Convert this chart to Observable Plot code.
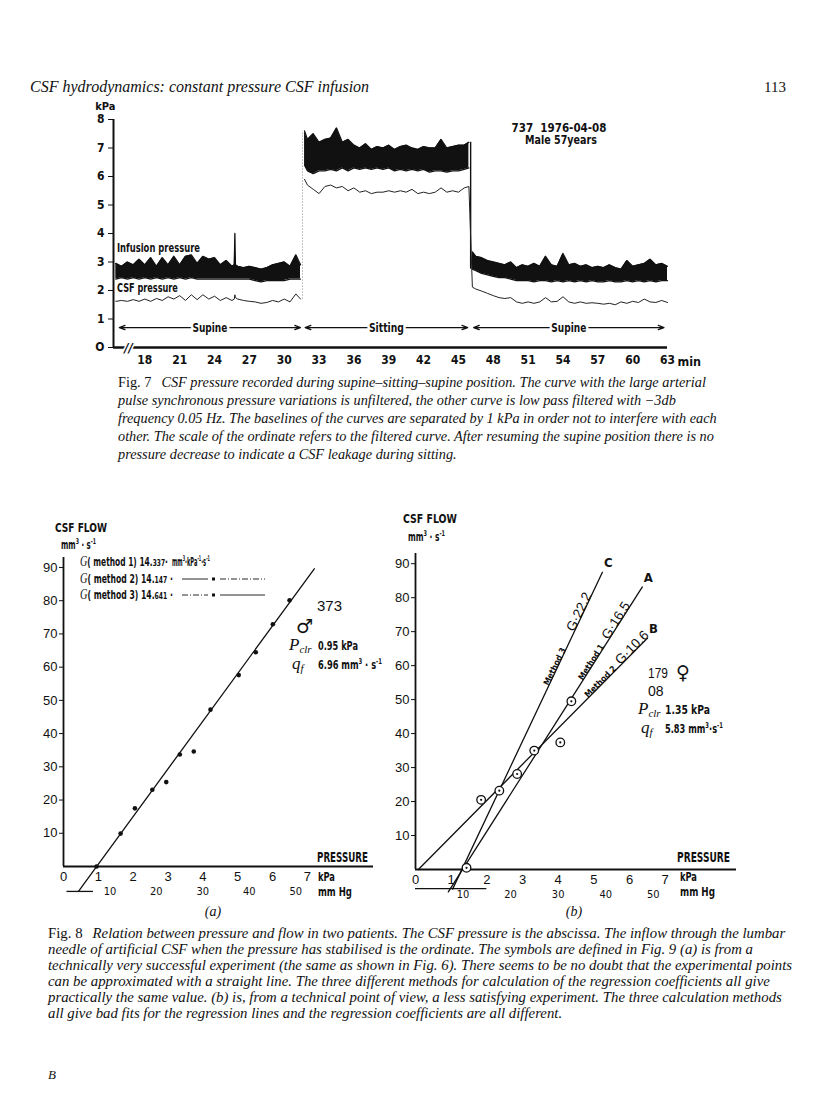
<!DOCTYPE html>
<html><head><meta charset="utf-8">
<script src="https://cdn.jsdelivr.net/npm/d3@7"></script>
<script src="https://cdn.jsdelivr.net/npm/@observablehq/plot@0.6"></script>
<style>
body{margin:0;background:#fff;}
#page{position:relative;width:816px;height:1118px;overflow:hidden;background:#fff;}
#page > svg{position:absolute;}
.ov text{fill:#111;}
.ser{font-family:"Liberation Serif","Times New Roman",serif;}
.it{font-family:"Liberation Serif","Times New Roman",serif;font-style:italic;}
.nar{font-family:"DejaVu Sans Condensed","Liberation Sans Narrow",sans-serif;font-weight:bold;}
.sans{font-family:"Liberation Sans","DejaVu Sans",sans-serif;}
</style></head><body><div id="page"></div>
<script>
// ---------------- Fig. 7 data (time in min, pressure in kPa) ----------------
const fig7XTicks = [18,21,24,27,30,33,36,39,42,45,48,51,54,57,60,63];
const fig7YTicks = [0,1,2,3,4,5,6,7,8];
const fig7Domain = [15.3, 63];

const supine1Time = [15.5,16,16.5,17,17.5,18,18.5,19,19.5,20,20.5,21,21.5,22,22.5,23,23.5,24,24.5,25,25.5,25.7,25.75,25.8,26,26.5,27,27.5,28,28.5,29,29.5,30,30.5,31,31.4];
const supine1InfHi = [2.95,2.85,3.0,2.9,3.1,2.9,3.15,2.85,3.15,2.9,3.2,2.9,3.2,3.25,2.95,3.2,3.1,3.15,2.9,3.05,2.85,2.9,4.0,2.9,2.85,2.8,2.85,2.8,2.75,2.8,2.9,2.95,3.0,2.85,3.25,2.9];
const supine1InfLo = [2.4,2.45,2.4,2.45,2.4,2.45,2.4,2.45,2.4,2.45,2.4,2.45,2.4,2.45,2.4,2.4,2.4,2.4,2.4,2.4,2.4,2.4,2.4,2.4,2.4,2.4,2.4,2.35,2.3,2.35,2.35,2.35,2.35,2.4,2.4,2.4];
const supine1Csf = [1.62,1.65,1.62,1.68,1.62,1.7,1.62,1.72,1.65,1.78,1.7,1.82,1.65,1.85,1.68,1.85,1.7,1.8,1.65,1.75,1.65,1.7,1.85,1.75,1.7,1.65,1.62,1.6,1.55,1.58,1.65,1.6,1.7,1.6,1.88,1.7];

const sittingTime = [31.75,32,32.5,33,33.5,34,34.5,35,35.5,36,36.5,37,37.5,38,38.5,39,39.5,40,40.5,41,41.5,42,42.5,43,43.5,44,44.5,45,45.5,45.9];
const sittingInfHi = [7.6,7.3,7.5,7.2,7.3,7.35,7.7,7.2,7.3,7.1,7.0,7.15,6.95,7.05,7.0,7.1,6.95,7.05,7.1,7.0,6.95,7.05,7.0,7.0,7.3,7.0,7.05,7.1,7.1,7.2];
const sittingInfLo = [6.4,6.2,6.1,6.2,6.2,6.25,6.2,6.3,6.2,6.3,6.25,6.3,6.25,6.3,6.25,6.3,6.2,6.25,6.2,6.25,6.2,6.25,6.15,6.2,6.2,6.15,6.2,6.2,6.25,6.3];
const sittingCsf = [5.9,5.7,5.55,5.4,5.65,5.7,5.6,5.65,5.5,5.6,5.45,5.5,5.4,5.45,5.45,5.5,5.45,5.5,5.45,5.55,5.4,5.45,5.4,5.45,5.6,5.45,5.5,5.45,5.6,5.65];

const supine2Time = [46.2,46.5,47,47.5,48,48.5,49,49.5,50,50.5,51,51.5,52,52.5,53,53.5,54,54.5,55,55.5,56,56.5,57,57.5,58,58.5,59,59.5,60,60.5,61,61.5,62,62.5,63];
const supine2InfHi = [3.35,3.2,3.15,3.05,3.0,2.95,2.9,3.0,2.8,2.9,2.85,2.95,2.85,3.2,2.9,2.85,3.3,2.9,2.95,2.85,2.9,2.8,2.85,2.8,2.9,2.8,2.75,3.05,2.85,2.9,2.95,3.1,2.9,2.95,2.85];
const supine2InfLo = [2.75,2.7,2.6,2.55,2.5,2.45,2.45,2.4,2.35,2.35,2.35,2.3,2.35,2.35,2.3,2.35,2.3,2.35,2.3,2.35,2.3,2.35,2.3,2.3,2.35,2.3,2.3,2.35,2.3,2.35,2.3,2.35,2.3,2.35,2.35];
const supine2Csf = [2.12,2.05,1.98,1.9,1.82,1.75,1.72,1.75,1.6,1.55,1.6,1.55,1.6,1.75,1.6,1.62,1.78,1.6,1.55,1.6,1.55,1.57,1.55,1.52,1.55,1.5,1.6,1.55,1.62,1.58,1.7,1.6,1.58,1.65,1.58];

const positionNames = ["Supine","Sitting","Supine"];
const positionStart = [15.8,31.8,46.3];
const positionEnd = [31.4,45.8,62.7];

// ---------------- Fig. 8 (a) data ----------------
const a_pressure = [0.95,1.64,2.05,2.55,2.95,3.34,3.74,4.22,5.03,5.52,6.01,6.49];
const a_flow     = [0,9.9,17.5,23.1,25.4,33.7,34.6,47.2,57.6,64.5,72.9,80.1];
const a_G = 14.337, a_Pclr = 0.95, a_lineRange = [0.43, 7.2];

// ---------------- Fig. 8 (b) data ----------------
const b_pressure = [1.43,1.84,2.35,2.85,3.33,4.06,4.37];
const b_flow     = [0.5,20.5,23.2,28.1,35,37.4,49.5];
const b_lineNames  = ["A","B","C"];
const b_methods    = ["Method 1","Method 2","Method 3"];
const b_G          = [16.5,10.6,22.2];
const b_intercept  = [1.32,0.08,1.30];
const b_lineStart  = [0.92,0.08,1.04];
const b_lineEnd    = [6.36,6.5,5.24];
const b_methodAtFlow = [60.6,54.7,59.4];
const b_gAtFlow      = [72.6,64.4,75.3];

const flowTicks = [10,20,30,40,50,60,70,80,90];
const kPaTicks = [0,1,2,3,4,5,6,7];
const mmHgTicks = [10,20,30,40,50];
const kPaPerMmHg = 0.133322;

// ---------------- build ----------------
const page = document.getElementById("page");
const NAR = '"DejaVu Sans Condensed","Liberation Sans Narrow",sans-serif';
const SANS = '"Liberation Sans","DejaVu Sans",sans-serif';

// horizontally condense a text element to a target width (keeps its anchor point)
function condense(el, len){
  const w = el.getComputedTextLength();
  if (!(w > 0)) return;
  const s = Math.min(1, len / w);
  const x = +(el.getAttribute("x") || 0);
  const prev = el.getAttribute("transform") || "";
  el.setAttribute("transform", `${prev} translate(${x*(1-s)},0) scale(${s},1)`.trim());
}

function rows(phase, t, hi, lo, csf){ return t.map((d,i)=>({phase, t:d, hi:hi[i], lo:lo[i], csf:csf[i], csfGroup: phase==="s1"?"a":"b"})); }
const fig7 = [...rows("s1",supine1Time,supine1InfHi,supine1InfLo,supine1Csf),
              ...rows("sit",sittingTime,sittingInfHi,sittingInfLo,sittingCsf),
              ...rows("s2",supine2Time,supine2InfHi,supine2InfLo,supine2Csf)];
const trans1 = {x:(supine1Time.at(-1)+sittingTime[0])/2, y1:supine1Csf.at(-1), y2:sittingInfHi[0]};
const trans2 = {x:(sittingTime.at(-1)+supine2Time[0])/2, y1:supine2InfLo[0], y2:sittingInfHi.at(-1)};
const posRows = positionNames.map((p,i)=>({p, a:positionStart[i], b:positionEnd[i], m:(positionStart[i]+positionEnd[i])/2}));

const p7 = Plot.plot({
  width:720, height:280, marginLeft:113, marginRight:53, marginTop:19, marginBottom:33,
  style:{background:"transparent", fontFamily:NAR, fontSize:"12px", fontWeight:"bold", color:"#111"},
  x:{domain:fig7Domain, ticks:fig7XTicks, tickSize:0, tickPadding:8, label:null},
  y:{domain:[0,8], ticks:fig7YTicks, tickSize:5, tickPadding:4, label:null, tickFormat:d=>d===0?"O":String(d)},
  marks:[
    Plot.ruleX([fig7Domain[0]], {y1:0, y2:8, strokeWidth:2, stroke:"#111"}),
    Plot.ruleY([0], {x1:fig7Domain[0], x2:fig7Domain[1], strokeWidth:2.4, stroke:"#111"}),
    Plot.ruleX([trans1], {x:"x", y1:"y1", y2:"y2", stroke:"#888", strokeDasharray:"1,2"}),
    Plot.ruleX([trans2], {x:"x", y1:"y1", y2:"y2", stroke:"#111", strokeWidth:1.4}),
    Plot.areaY(fig7, {x:"t", y1:"lo", y2:"hi", z:"phase", fill:"#111"}),
    Plot.line(fig7, {x:"t", y:"hi", z:"phase", stroke:"#111", strokeWidth:1.3}),
    Plot.line(fig7, {x:"t", y:"lo", z:"phase", stroke:"#111", strokeWidth:1.3}),
    Plot.line(fig7, {x:"t", y:"csf", z:"csfGroup", stroke:"#222", strokeWidth:1}),
    Plot.arrow(posRows, {x1:"m", x2:"a", y1:0.7, y2:0.7, headLength:7, headAngle:40, strokeWidth:1.3, stroke:"#111"}),
    Plot.arrow(posRows, {x1:"m", x2:"b", y1:0.7, y2:0.7, headLength:7, headAngle:40, strokeWidth:1.3, stroke:"#111"}),
    Plot.text(posRows, {x:"m", y:0.7, text:"p", fontSize:12.5, fill:"#111", stroke:"white", strokeWidth:6}),
    Plot.text(["min"], {x:fig7Domain[1], y:0, dx:10, dy:14, textAnchor:"start", fontSize:12.5}),
    Plot.text(["kPa"], {x:fig7Domain[0], y:8, dx:2, dy:-13, textAnchor:"end", fontSize:11}),
    Plot.text(["//"], {x:16.6, y:0, fontSize:13, fontStyle:"italic", stroke:"white", strokeWidth:3, fill:"#111"})
  ]
});
p7.style.left = "0px"; p7.style.top = "100px";
page.appendChild(p7);
d3.select(p7).selectAll("text").filter(function(){ return positionNames.includes(this.textContent); })
  .each(function(){ condense(this, 35); });

// Fig 8 (a)
const aPts = a_pressure.map((x,i)=>({x, y:a_flow[i]}));
const aLine = a_lineRange.map(x=>({x, y:a_G*(x-a_Pclr)}));
const pa = Plot.plot({
  width:400, height:410, marginLeft:63, marginRight:27, marginTop:57, marginBottom:44,
  style:{background:"transparent", fontFamily:SANS, fontSize:"13px", color:"#111"},
  x:{domain:[0,8.9], ticks:kPaTicks, tickSize:0, tickPadding:5, label:null},
  y:{domain:[0,93], ticks:flowTicks, tickSize:4, tickPadding:2, label:null},
  marks:[
    Plot.ruleX([0], {y1:0, y2:93, strokeWidth:1.8, stroke:"#111"}),
    Plot.ruleY([0], {x1:0, x2:8.9, strokeWidth:1.8, stroke:"#111"}),
    Plot.ruleY([-7.5], {x1:0.1, x2:0.86, strokeWidth:1.3, stroke:"#111"}),
    Plot.line(aLine, {x:"x", y:"y", strokeWidth:1.3, stroke:"#111"}),
    Plot.dot(aPts, {x:"x", y:"y", r:2.3, fill:"#111"}),
    Plot.text(mmHgTicks, {x:d=>d*kPaPerMmHg, y:0, dy:25, text:d=>String(d), fontSize:11, fontFamily:NAR})
  ]
});
pa.style.left = "0px"; pa.style.top = "500px";
page.appendChild(pa);

// Fig 8 (b)
const kx = (736-415)/9, ky = 316/93; // px per unit, used only for the label angle
const bPts = b_pressure.map((x,i)=>({x, y:b_flow[i]}));
const bLines = b_lineNames.flatMap((n,i)=>[b_lineStart[i], b_lineEnd[i]].map(x=>({n, x, y:b_G[i]*(x-b_intercept[i])})));
const bEnds = b_lineNames.map((n,i)=>({n, x:b_lineEnd[i], y:b_G[i]*(b_lineEnd[i]-b_intercept[i])}));
const bLabels = b_lineNames.map((n,i)=>({
  method:b_methods[i], g:"G·"+b_G[i],
  mx:b_intercept[i]+b_methodAtFlow[i]/b_G[i], my:b_methodAtFlow[i],
  gx:b_intercept[i]+b_gAtFlow[i]/b_G[i], gy:b_gAtFlow[i],
  rot:-Math.atan(b_G[i]*ky/kx)*180/Math.PI}));
const pb = Plot.plot({
  width:420, height:410, marginLeft:65, marginRight:34, marginTop:53, marginBottom:41,
  style:{background:"transparent", fontFamily:SANS, fontSize:"13px", color:"#111"},
  x:{domain:[0,9], ticks:kPaTicks, tickSize:0, tickPadding:5, label:null},
  y:{domain:[0,93], ticks:flowTicks, tickSize:4, tickPadding:2, label:null},
  marks:[
    Plot.ruleX([0], {y1:0, y2:93, strokeWidth:1.8, stroke:"#111"}),
    Plot.ruleY([0], {x1:0, x2:9, strokeWidth:1.8, stroke:"#111"}),
    Plot.ruleY([-5.6], {x1:0, x2:2.0, strokeWidth:1.2, stroke:"#111"}),
    Plot.line(bLines, {x:"x", y:"y", z:"n", strokeWidth:1.3, stroke:"#111"}),
    Plot.dot(bPts, {x:"x", y:"y", r:4.3, fill:"white", stroke:"#111", strokeWidth:1.3}),
    Plot.dot(bPts, {x:"x", y:"y", r:1.1, fill:"#111"}),
    Plot.text(bEnds, {x:"x", y:"y", text:"n", dx:6, dy:-9, fontFamily:NAR, fontWeight:"bold", fontSize:13}),
    Plot.text(bLabels, {x:"mx", y:"my", text:"method", rotate:"rot", lineAnchor:"bottom", fontFamily:NAR, fontWeight:"bold", fontSize:8.5}),
    Plot.text(bLabels, {x:"gx", y:"gy", text:"g", rotate:"rot", lineAnchor:"bottom", fontFamily:SANS, fontSize:13.5}),
    Plot.text(mmHgTicks, {x:d=>d*kPaPerMmHg, y:0, dy:25, text:d=>String(d), fontSize:11, fontFamily:NAR})
  ]
});
pb.style.left = "350px"; pb.style.top = "500px";
page.appendChild(pb);

// ---------------- page texts (overlay) ----------------
function T(x, y, cls, size, content, len, anchor){
  return `<text class="${cls}" x="${x}" y="${y}" font-size="${size}"${anchor?` text-anchor="${anchor}"`:""}${len?` data-len="${len}"`:""} xml:space="preserve">${content}</text>`;
}
const unitFlow = `mm<tspan font-size="8" dy="-5">3</tspan><tspan dy="5">·s</tspan><tspan font-size="8" dy="-5">-1</tspan>`;
const unitFlowSp = `mm<tspan font-size="8" dy="-5">3</tspan><tspan dy="5"> · s</tspan><tspan font-size="8" dy="-5">-1</tspan>`;
const cap7 = [
 `<tspan class="ser" font-style="normal">Fig. 7</tspan><tspan dx="10">CSF pressure recorded during supine–sitting–supine position. The curve with the large arterial</tspan>`,
 `pulse synchronous pressure variations is unfiltered, the other curve is low pass filtered with −3db`,
 `frequency 0.05 Hz. The baselines of the curves are separated by 1 kPa in order not to interfere with each`,
 `other. The scale of the ordinate refers to the filtered curve. After resuming the supine position there is no`,
 `pressure decrease to indicate a CSF leakage during sitting.`];
const cap8 = [
 `<tspan class="ser" font-style="normal">Fig. 8</tspan><tspan dx="10">Relation between pressure and flow in two patients. The CSF pressure is the abscissa. The inflow through the lumbar</tspan>`,
 `needle of artificial CSF when the pressure has stabilised is the ordinate. The symbols are defined in Fig. 9 (a) is from a`,
 `technically very successful experiment (the same as shown in Fig. 6). There seems to be no doubt that the experimental points`,
 `can be approximated with a straight line. The three different methods for calculation of the regression coefficients all give`,
 `practically the same value. (b) is, from a technical point of view, a less satisfying experiment. The three calculation methods`,
 `all give bad fits for the regression lines and the regression coefficients are all different.`];

let ov = `<svg class="ov" width="816" height="1118" style="left:0;top:0" xmlns="http://www.w3.org/2000/svg">`;
ov += T(30, 92, "it", 16, "CSF hydrodynamics: constant pressure CSF infusion");
ov += T(786, 92, "ser", 15, "113", 0, "end");
// fig 7 annotations
ov += T(559, 132, "nar", 11.5, "737  1976-04-08", 97, "middle");
ov += T(561, 144, "nar", 11.5, "Male 57years", 72, "middle");
ov += T(117, 252, "nar", 12, "Infusion pressure", 83);
ov += T(117, 292, "nar", 12, "CSF pressure", 61);
cap7.forEach((l,i)=>{ ov += `<text class="it" x="118" y="${387+i*18}" font-size="14.3">${l}</text>`; });
// fig 8a
ov += T(55, 532, "nar", 13, "CSF FLOW", 52);
ov += T(61, 549, "nar", 12, unitFlowSp, 35);
const legY = [566,583,599], legVal = ["14.337","14.147","14.641"];
legY.forEach((y,i)=>{
  ov += `<text x="80" y="${y}" data-len="${i===0?88:93}"><tspan class="it" font-size="14.5">G</tspan><tspan class="nar" font-size="12">( method ${i+1}) ${legVal[i].slice(0,3)}</tspan><tspan class="nar" font-size="9.5">${legVal[i].slice(3)}</tspan><tspan class="nar" font-size="12">${i===0?"·":" ·"}</tspan></text>`;
});
ov += `<text class="nar" x="172" y="566" font-size="12" data-len="38">mm<tspan font-size="8" dy="-5">3</tspan><tspan dy="5">·kPa</tspan><tspan font-size="8" dy="-5">-1</tspan><tspan dy="5">·s</tspan><tspan font-size="8" dy="-5">-1</tspan></text>`;
ov += `<line x1="182" y1="579" x2="208" y2="579" stroke="#111" stroke-width="0.9"/><rect x="212" y="577.5" width="3" height="3" fill="#111"/><line x1="220" y1="579" x2="265" y2="579" stroke="#111" stroke-width="0.9" stroke-dasharray="6,2,1,2"/>`;
ov += `<line x1="182" y1="595" x2="208" y2="595" stroke="#111" stroke-width="0.9" stroke-dasharray="6,2,1,2"/><rect x="212" y="593.5" width="3" height="3" fill="#111"/><line x1="220" y1="595" x2="265" y2="595" stroke="#111" stroke-width="0.9"/>`;
ov += T(317, 611, "sans", 15, "373", 25);
ov += `<text x="296" y="633" font-size="19" font-weight="bold" font-family="DejaVu Sans">♂</text>`;
ov += `<text x="289" y="650"><tspan class="it" font-size="17">P</tspan><tspan class="it" font-size="11" dy="3">clr</tspan></text>`;
ov += T(318, 650, "nar", 12.5, "0.95 kPa", 40);
ov += `<text x="292" y="669"><tspan class="it" font-size="17">q</tspan><tspan class="it" font-size="11" dy="3">f</tspan></text>`;
ov += T(318, 669, "nar", 12.5, "6.96 " + unitFlowSp, 64);
ov += T(368, 862, "nar", 13.5, "PRESSURE", 51, "end");
ov += T(318, 881, "nar", 12, "kPa", 17);
ov += T(318, 896, "nar", 12, "mm Hg", 34);
ov += T(213, 916, "it", 14, "(a)", 0, "middle");
// fig 8b
ov += T(403, 523, "nar", 13, "CSF FLOW", 54);
ov += T(408, 541, "nar", 12, unitFlowSp, 37);
ov += T(648, 678, "sans", 14, "179", 20);
ov += `<text x="676" y="679" font-size="19" font-weight="bold" font-family="DejaVu Sans">♀</text>`;
ov += T(648, 696, "sans", 14, "08", 17);
ov += `<text x="638" y="714"><tspan class="it" font-size="17">P</tspan><tspan class="it" font-size="11" dy="3">clr</tspan></text>`;
ov += T(665, 714, "nar", 12.5, "1.35 kPa", 45);
ov += `<text x="641" y="733"><tspan class="it" font-size="17">q</tspan><tspan class="it" font-size="11" dy="3">f</tspan></text>`;
ov += T(665, 733, "nar", 12.5, "5.83 " + unitFlow, 58);
ov += T(730, 862, "nar", 13.5, "PRESSURE", 53, "end");
ov += T(680, 881, "nar", 12, "kPa", 17);
ov += T(680, 896, "nar", 12, "mm Hg", 35);
ov += T(574, 916, "it", 14, "(b)", 0, "middle");
cap8.forEach((l,i)=>{ ov += `<text class="it" x="48" y="${938+i*16}" font-size="14.8">${l}</text>`; });
ov += T(48, 1079, "it", 13, "B");
ov += `</svg>`;
page.insertAdjacentHTML("beforeend", ov);
page.querySelectorAll(".ov text[data-len]").forEach(el=>condense(el, +el.getAttribute("data-len")));
</script></body></html>
